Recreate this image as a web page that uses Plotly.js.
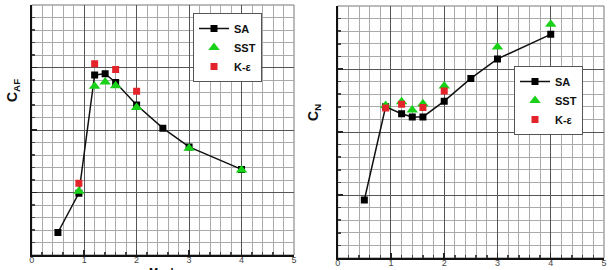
<!DOCTYPE html>
<html>
<head>
<meta charset="utf-8">
<script src="https://cdn.plot.ly/plotly-3.0.1.min.js"></script>
<style>html,body{margin:0;padding:0;background:#fff;}#chart{width:610px;height:270px;}</style>
</head>
<body>
<div id="chart"></div>
<script>
// Left panel: C_AF vs Mach
const machSA = [0.5, 0.9, 1.2, 1.4, 1.6, 2.0, 2.5, 3.0, 4.0];
const cafSA = [0.36, 0.99, 2.88, 2.90, 2.76, 2.40, 2.03, 1.73, 1.37];
const machSST = [0.9, 1.2, 1.4, 1.6, 2.0, 3.0, 4.0];
const cafSST = [1.02, 2.70, 2.77, 2.71, 2.36, 1.71, 1.36];
const machKE = [0.9, 1.2, 1.6, 2.0];
const cafKE = [1.15, 3.06, 2.97, 2.62];
// Right panel: C_N vs Mach
const cnSA = [0.92, 2.40, 2.29, 2.24, 2.24, 2.49, 2.85, 3.16, 3.55];
const cnSST = [2.42, 2.48, 2.35, 2.45, 2.73, 3.35, 3.71];
const cnKE = [2.38, 2.44, 2.39, 2.65];
const xTicks = [0, 1, 2, 3, 4, 5];
const names = ['SA', 'SST', 'K-ε'];
const yTitles = ['C<sub>AF</sub>', 'C<sub>N</sub>'];
const xTitle = 'Mach';

const W = 610, H = 270;
const FONT = 'Liberation Sans, Arial, sans-serif';
function saStyle() { return {mode: 'lines+markers', line: {color: '#111', width: 1.5}, marker: {symbol: 'square', size: 7, color: '#000'}}; }
function sstStyle() { return {mode: 'markers', marker: {symbol: 'triangle-up', size: 10, color: '#19d119'}}; }
function keStyle() { return {mode: 'markers', marker: {symbol: 'square', size: 7, color: '#e3242b'}}; }

const traces = [
  Object.assign({x: machSA, y: cafSA, name: names[0], xaxis: 'x', yaxis: 'y', legend: 'legend'}, saStyle()),
  Object.assign({x: machSST, y: cafSST, name: names[1], xaxis: 'x', yaxis: 'y', legend: 'legend'}, sstStyle()),
  Object.assign({x: machKE, y: cafKE, name: names[2], xaxis: 'x', yaxis: 'y', legend: 'legend'}, keStyle()),
  Object.assign({x: machSA, y: cnSA, name: names[0], xaxis: 'x2', yaxis: 'y2', legend: 'legend2'}, saStyle()),
  Object.assign({x: machSST, y: cnSST, name: names[1], xaxis: 'x2', yaxis: 'y2', legend: 'legend2'}, sstStyle()),
  Object.assign({x: machKE, y: cnKE, name: names[2], xaxis: 'x2', yaxis: 'y2', legend: 'legend2'}, keStyle())
];

function xax(domain, anchor) {
  return {
    domain: domain, anchor: anchor, range: [0, 5], tickmode: 'linear', tick0: 0, dtick: 1,
    showline: true, linewidth: 2, linecolor: '#111', mirror: false,
    ticks: 'inside', ticklen: 5, tickwidth: 1.5, tickcolor: '#222', ticklabelstandoff: -5,
    showgrid: true, gridcolor: '#555', gridwidth: 1,
    minor: {dtick: 0.2, showgrid: true, gridcolor: '#aaaaaa', gridwidth: 1, ticks: 'inside', ticklen: 3, tickcolor: '#444'},
    tickfont: {family: FONT, size: 9, color: '#444'}, zeroline: false, fixedrange: true
  };
}
function yax(domain, anchor) {
  return {
    domain: domain, anchor: anchor, range: [0, 4], tickmode: 'linear', tick0: 0, dtick: 1, showticklabels: false,
    showline: true, linewidth: 2, linecolor: '#111', mirror: false,
    ticks: 'inside', ticklen: 5, tickwidth: 1.5, tickcolor: '#222',
    showgrid: true, gridcolor: '#555', gridwidth: 1,
    minor: {dtick: 0.2, showgrid: true, gridcolor: '#aaaaaa', gridwidth: 1, ticks: 'inside', ticklen: 3, tickcolor: '#444'},
    zeroline: false, fixedrange: true
  };
}
const dx1 = [31.7 / W, 294 / W], dy1 = [(H - 255) / H, (H - 5) / H];
const dx2 = [337.7 / W, 604 / W], dy2 = [(H - 258) / H, (H - 6) / H];
const legFont = {family: FONT, size: 11, color: '#111', weight: 'bold'};
const layout = {
  width: W, height: H, margin: {l: 0, r: 0, t: 0, b: 0},
  paper_bgcolor: '#fff', plot_bgcolor: '#fff', showlegend: true,
  xaxis: xax(dx1, 'y'),
  yaxis: yax(dy1, 'x'),
  xaxis2: xax(dx2, 'y2'),
  yaxis2: yax(dy2, 'x2'),
  legend: {x: 193 / W, y: 1 - 13 / H, xanchor: 'left', yanchor: 'top', bgcolor: '#fff', bordercolor: '#555', borderwidth: 1,
    font: legFont, tracegroupgap: 0, itemwidth: 30},
  legend2: {x: 514 / W, y: 1 - 66 / H, xanchor: 'left', yanchor: 'top', bgcolor: '#fff', bordercolor: '#555', borderwidth: 1,
    font: legFont, tracegroupgap: 0, itemwidth: 30},
  shapes: [
    {type: 'rect', xref: 'x domain', yref: 'y domain', x0: 0, x1: 1, y0: 0, y1: 1, line: {color: '#777', width: 1}, fillcolor: 'rgba(0,0,0,0)', layer: 'below'},
    {type: 'rect', xref: 'x2 domain', yref: 'y2 domain', x0: 0, x1: 1, y0: 0, y1: 1, line: {color: '#777', width: 1}, fillcolor: 'rgba(0,0,0,0)', layer: 'below'}
  ],
  annotations: [
    {text: yTitles[0], xref: 'paper', yref: 'paper', x: 13 / W, y: 1 - 91 / H, xanchor: 'center', yanchor: 'middle', textangle: -90, showarrow: false,
      font: {family: FONT, size: 14, color: '#111', weight: 'bold'}},
    {text: yTitles[1], xref: 'paper', yref: 'paper', x: 314 / W, y: 1 - 113 / H, xanchor: 'center', yanchor: 'middle', textangle: -90, showarrow: false,
      font: {family: FONT, size: 14, color: '#111', weight: 'bold'}},
    {text: xTitle, xref: 'paper', yref: 'paper', x: 163 / W, y: (H - 264) / H, xanchor: 'center', yanchor: 'top', showarrow: false,
      font: {family: FONT, size: 11, color: '#111', weight: 'bold'}}
  ]
};
Plotly.newPlot('chart', traces, layout, {displayModeBar: false, staticPlot: true});
</script>
</body>
</html>
